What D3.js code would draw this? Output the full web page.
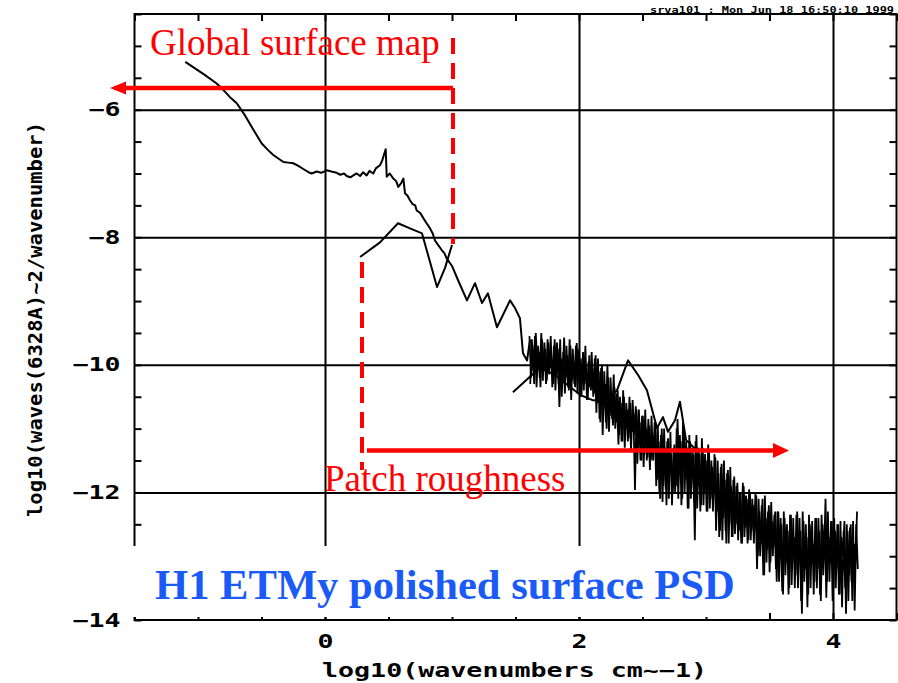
<!DOCTYPE html>
<html>
<head>
<meta charset="utf-8">
<script src="https://d3js.org/d3.v7.min.js"></script>
<style>
  body { margin: 0; background: #fff; }
  .curve { fill: none; stroke: #000; stroke-width: 2px; stroke-linejoin: round; }
  .noise { fill: none; stroke: #000; stroke-width: 1.8px; }
  .lbl { font-family: "DejaVu Sans Mono", monospace; font-weight: bold; fill: #000; }
  .red { fill: #f00; font-family: "Liberation Serif", serif; font-size: 37px; }
</style>
</head>
<body>
<script>
// global surface map PSD (log10 k, log10 psd)
const globalMap = [[-1.10,-5.25],[-0.95,-5.45],[-0.853,-5.59],[-0.801,-5.69],[-0.75,-5.80],[-0.695,-5.90],
  [-0.63,-6.09],[-0.565,-6.31],[-0.498,-6.53],[-0.45,-6.63],[-0.407,-6.71],[-0.328,-6.82],[-0.29,-6.83],
  [-0.25,-6.84],[-0.21,-6.88],[-0.171,-6.93],[-0.13,-6.98],[-0.105,-7.00],[-0.065,-6.97],[-0.03,-6.99],
  [0.013,-6.95],[0.05,-6.97],[0.092,-6.99],[0.12,-7.02],[0.15,-7.00],[0.171,-7.04],[0.20,-7.06],[0.223,-7.03],
  [0.25,-7.00],[0.276,-7.04],[0.30,-6.98],[0.328,-7.03],[0.35,-6.96],[0.38,-7.00],[0.40,-6.92],[0.433,-6.87],
  [0.45,-6.80],[0.459,-6.74],[0.478,-6.62],[0.486,-7.05],[0.51,-7.00],[0.538,-7.08],[0.56,-7.12],[0.577,-7.21],
  [0.60,-7.15],[0.617,-7.08],[0.63,-7.31],[0.65,-7.35],[0.669,-7.42],[0.69,-7.48],[0.71,-7.50],[0.722,-7.58],
  [0.75,-7.62],[0.774,-7.70],[0.80,-7.78],[0.827,-7.86],[0.85,-7.95],[0.866,-8.05],[0.89,-8.12],[0.919,-8.20],
  [0.94,-8.25],[0.958,-8.33],[1.00,-8.45],[1.047,-8.67],[1.118,-8.99],[1.181,-8.72],[1.236,-9.03],[1.283,-8.88],
  [1.354,-9.41],[1.457,-8.99],[1.496,-9.11],[1.535,-9.27],[1.559,-9.82],[1.591,-9.93],[1.614,-9.61]];

// patch measurement, coarse and medium resolution
const patchCoarse = [[0.276,-8.31],[0.433,-8.08],[0.575,-7.78],[0.669,-7.86],[0.764,-7.94],[0.882,-8.78],
  [0.945,-8.48],[1.00,-8.12]];
const patchMid = [[1.48,-10.43],[1.693,-10.04],[1.811,-10.16],[1.913,-10.32],[2.008,-10.47],[2.102,-10.55],
  [2.205,-10.58],[2.299,-10.40],[2.386,-9.93],[2.465,-10.16],[2.535,-10.40],[2.614,-10.99],[2.661,-10.82],
  [2.701,-11.05],[2.756,-10.87],[2.795,-10.58],[2.843,-11.18],[2.913,-11.31]];

// patch measurement, fine resolution, two overlapping scans (evenly sampled in log10 k)
const fineStart = 1.61, fineStep = 0.0124;
const patchFineA = [
  -9.55,-10.2,-9.7,-10.3,-9.5,-10.0,-9.8,-10.35,-9.6,-10.1,-9.75,-10.25,-9.65,-10.05,-9.9,-10.3,
  -9.6,-10.15,-9.75,-10.66,-9.9,-10.3,-9.57,-10.2,-9.85,-10.4,-9.7,-10.25,-9.95,
  -10.35,-9.66,-10.2,-9.9,-10.5,-9.8,-10.3,-10.0,-10.55,-9.85,-10.4,-10.05,-10.45,
  -9.85,-10.6,-10.1,-10.9,-10.0,-10.7,-10.3,-11.0,-10.2,-10.8,-10.4,-10.95,-10.35,
  -10.9,-10.4,-11.1,-10.6,-11.2,-10.5,-11.0,-10.7,-11.15,-10.6,-11.05,-10.75,
  -11.96,-10.7,-11.3,-10.9,-11.5,-10.8,-11.4,-11.0,-11.45,-10.95,-11.5,-11.1,-11.35,
  -10.9,-11.8,-11.2,-12.1,-11.0,-11.9,-11.3,-12.2,-11.15,-11.7,-11.4,-12.0,-11.25,
  -11.9,-10.85,-11.6,-11.2,-12.1,-11.0,-11.8,-11.3,-12.25,-11.2,-11.7,-11.4,
  -12.75,-11.1,-11.9,-11.4,-12.2,-11.3,-12.0,-11.5,-12.3,-11.35,-12.1,-11.6,-12.0,
  -11.45,-12.3,-11.7,-12.6,-11.55,-12.4,-11.8,-12.8,-11.65,-12.5,-11.9,-12.7,-11.75,
  -12.5,-11.85,-12.6,-12.0,-12.8,-11.9,-12.55,-12.1,-12.75,-12.0,-12.6,-12.2,-12.5,
  -12.05,-13.0,-12.3,-12.8,-12.1,-13.3,-12.4,-12.9,-12.2,-13.1,-12.45,-12.85,-12.3,
  -13.4,-12.3,-12.9,-12.5,-13.6,-12.4,-13.1,-12.6,-13.5,-12.35,-13.0,-12.7,
  -13.3,-12.3,-13.0,-12.6,-13.9,-12.45,-13.2,-12.7,-13.6,-12.5,-13.1,-12.8,-13.4,
  -12.4,-13.2,-12.6,-13.7,-12.5,-13.0,-12.1,-13.4,-12.7,-13.1,-12.45,-13.5,-12.6,
  -13.2,-12.5,-13.6,-12.7,-13.0,-12.45,-13.9,-12.6,-13.3,-12.5,-13.7,-12.8,-13.1,-12.3];
const patchFineB = [
  -10.3,-9.6,-10.1,-9.55,-10.35,-9.7,-10.2,-9.5,-10.25,-9.65,-10.3,-9.6,-10.15,-9.55,-10.35,-9.7,
  -10.4,-9.65,-10.3,-9.6,-10.5,-9.8,-10.45,-9.7,-10.35,-9.6,-10.55,-9.75,-10.3,
  -9.7,-10.45,-9.75,-10.5,-9.9,-10.4,-9.7,-10.55,-9.95,-10.35,-9.8,-10.5,-9.9,
  -10.75,-9.9,-10.85,-10.05,-11.1,-10.1,-10.9,-10.0,-11.05,-10.2,-10.85,-10.15,-11.0,
  -10.45,-11.25,-10.5,-11.2,-10.4,-11.3,-10.6,-11.2,-10.5,-11.35,-10.55,-11.1,
  -10.65,-11.55,-10.7,-11.5,-10.8,-11.6,-10.7,-11.5,-10.85,-11.65,-10.8,-11.5,-10.9,
  -11.9,-10.95,-12.0,-11.1,-12.15,-11.0,-11.95,-11.2,-12.1,-11.05,-12.2,-11.3,-12.0,
  -11.0,-12.1,-11.1,-12.2,-10.9,-12.0,-11.2,-12.25,-11.1,-12.1,-11.3,-12.15,
  -11.2,-12.25,-11.3,-12.3,-11.15,-12.2,-11.4,-12.3,-11.25,-12.25,-11.5,-12.3,-11.4,
  -12.6,-11.5,-12.7,-11.6,-12.75,-11.5,-12.6,-11.7,-12.8,-11.6,-12.7,-11.8,-12.65,
  -11.9,-12.75,-12.0,-12.8,-11.85,-12.7,-12.05,-12.8,-11.95,-12.75,-12.1,-12.8,-12.0,
  -13.2,-12.1,-13.0,-12.2,-13.3,-12.05,-13.1,-12.3,-13.25,-12.15,-13.0,-12.35,-13.2,
  -12.3,-13.4,-12.4,-13.55,-12.3,-13.3,-12.5,-13.6,-12.35,-13.45,-12.4,-13.5,
  -12.35,-13.5,-12.4,-13.7,-12.3,-13.4,-12.5,-13.8,-12.35,-13.5,-12.45,-13.6,-12.4,
  -13.5,-12.4,-13.6,-12.35,-13.3,-12.5,-13.65,-12.3,-13.4,-12.45,-13.7,-12.4,-13.5,
  -12.5,-13.6,-12.45,-13.8,-12.6,-13.5,-12.5,-13.7,-12.55,-13.4,-12.45,-13.85,-12.5,-13.2];

const xLabels = [0, 2, 4];
const yLabels = [-14, -12, -10, -8, -6];
const xGrid = [0, 2, 4];
const yGrid = [-12, -10, -8, -6];

const W = 898, H = 683;
const x = d3.scaleLinear().domain([-1.5, 4.5]).range([134.5, 896.5]);
const y = d3.scaleLinear().domain([-14, -4.5]).range([620, 14]);
const minorX = d3.range(-1.5, 4.51, 0.5), minorY = d3.range(-14, -4.49, 0.5);

const svg = d3.select("body").append("svg").attr("width", W).attr("height", H);
const fmt = d3.format("d");
const heavy = g => g.selectAll("line").attr("stroke", "#000").attr("stroke-width", 2);

// grid lines
svg.append("g").attr("transform", "translate(0,620)")
  .call(d3.axisBottom(x).tickValues(xGrid).tickSize(-606).tickFormat(""))
  .call(g => g.select(".domain").remove()).call(heavy);
svg.append("g").attr("transform", "translate(134.5,0)")
  .call(d3.axisLeft(y).tickValues(yGrid).tickSize(-762).tickFormat(""))
  .call(g => g.select(".domain").remove()).call(heavy);

// ticks on all four sides
const axBottom = svg.append("g").attr("transform", "translate(0,620)")
  .call(d3.axisBottom(x).tickValues(minorX).tickSizeInner(-7).tickSizeOuter(0).tickPadding(15)
    .tickFormat(d => xLabels.includes(d) ? fmt(d) : ""));
const axLeft = svg.append("g").attr("transform", "translate(134.5,0)")
  .call(d3.axisLeft(y).tickValues(minorY).tickSizeInner(-7).tickSizeOuter(0).tickPadding(14)
    .tickFormat(d => yLabels.includes(d) ? fmt(d) : ""));
const axTop = svg.append("g").attr("transform", "translate(0,14)")
  .call(d3.axisTop(x).tickValues(minorX).tickSizeInner(-7).tickSizeOuter(0).tickFormat(""));
const axRight = svg.append("g").attr("transform", "translate(896.5,0)")
  .call(d3.axisRight(y).tickValues(minorY).tickSizeInner(-7).tickSizeOuter(0).tickFormat(""));
svg.selectAll(".domain").remove();
[axBottom, axLeft, axTop, axRight].forEach(heavy);

[axBottom, axLeft].forEach(g => g.selectAll("text")
  .attr("class", "lbl").style("font-size", "19px").attr("font-family", null).attr("fill", "#000")
  .each(function () {
    const t = d3.select(this), n = t.text().length;
    if (n) t.attr("textLength", n * 16).attr("lengthAdjust", "spacingAndGlyphs");
  }));

// frame
svg.append("rect").attr("x", 134.5).attr("y", 14).attr("width", 762).attr("height", 606)
  .attr("fill", "none").attr("stroke", "#000").attr("stroke-width", 2);

// curves
const line = d3.line().x(d => x(d[0])).y(d => y(d[1]));
[globalMap, patchCoarse, patchMid].forEach(s =>
  svg.append("path").datum(s).attr("class", "curve").attr("d", line));
[[patchFineA, 0], [patchFineB, fineStep / 2]].forEach(([s, off]) =>
  svg.append("path").datum(s).attr("class", "noise")
    .attr("d", d3.line().x((d, i) => x(fineStart + off + i * fineStep)).y(d => y(d))));

// white label box with title
svg.append("rect").attr("x", 130).attr("y", 546).attr("width", 620).attr("height", 71).attr("fill", "#fff");
svg.append("text").attr("x", 155).attr("y", 599)
  .style("font-family", "'Liberation Serif', serif").style("font-weight", "bold")
  .style("font-size", "42.6px").style("fill", "#1a5af7")
  .text("H1 ETMy polished surface PSD");

// axis titles
svg.append("text").attr("class", "lbl").attr("x", 322).attr("y", 677).style("font-size", "19px")
  .attr("textLength", 385).attr("lengthAdjust", "spacingAndGlyphs")
  .text("log10(wavenumbers cm~\u22121)");
svg.append("text").attr("class", "lbl").attr("transform", "translate(42,319.5) rotate(-90)")
  .attr("text-anchor", "middle").style("font-size", "19px")
  .attr("textLength", 395).attr("lengthAdjust", "spacingAndGlyphs")
  .text("log10(waves(6328A)~2/wavenumber)");

// timestamp top right
svg.append("text").attr("class", "lbl").attr("x", 650).attr("y", 13).style("font-size", "9px")
  .attr("textLength", 244).attr("lengthAdjust", "spacingAndGlyphs")
  .text("srva101 : Mon Jun 18 16:50:10 1999");

// red annotations
const red = svg.append("g");
red.append("line").attr("x1", 453).attr("x2", 453).attr("y1", 38).attr("y2", 244)
  .attr("stroke", "#f00").attr("stroke-width", 4).attr("stroke-dasharray", "16,9");
red.append("line").attr("x1", 453).attr("x2", 122).attr("y1", 88).attr("y2", 88)
  .attr("stroke", "#f00").attr("stroke-width", 4.5);
red.append("path").attr("d", "M110,88 L126,81.5 L126,94.5 Z").attr("fill", "#f00");
red.append("text").attr("class", "red").attr("x", 150).attr("y", 55).text("Global surface map");

red.append("line").attr("x1", 362).attr("x2", 362).attr("y1", 262).attr("y2", 470)
  .attr("stroke", "#f00").attr("stroke-width", 4).attr("stroke-dasharray", "16,9");
red.append("line").attr("x1", 367).attr("x2", 776).attr("y1", 450.5).attr("y2", 450.5)
  .attr("stroke", "#f00").attr("stroke-width", 4.5);
red.append("path").attr("d", "M789,450.5 L773,443 L773,458 Z").attr("fill", "#f00");
red.append("text").attr("class", "red").attr("x", 324).attr("y", 491).text("Patch roughness");
</script>
</body>
</html>
